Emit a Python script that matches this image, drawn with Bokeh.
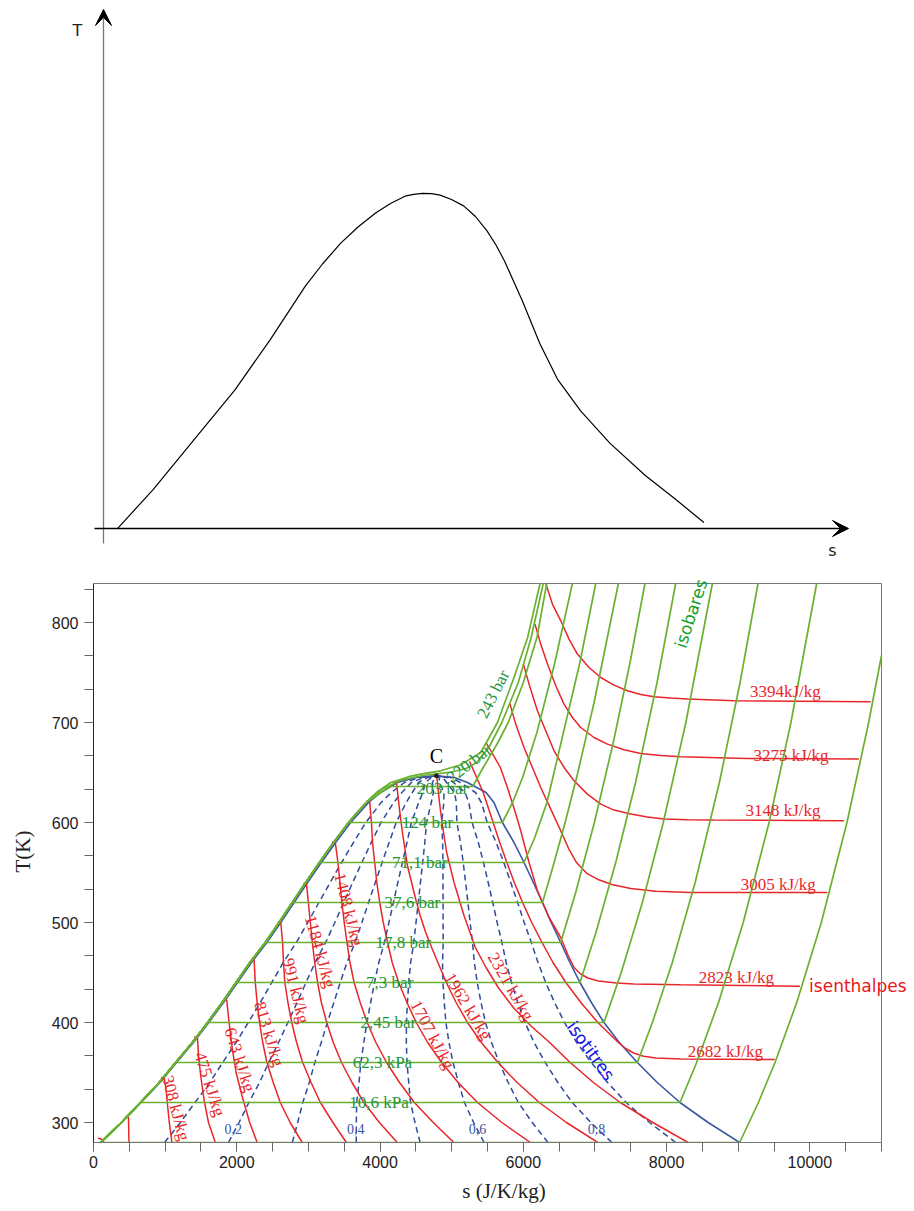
import numpy as np
from bokeh.plotting import figure
from bokeh.models import Range1d, FixedTicker, Arrow, VeeHead, Label, ColumnDataSource
from bokeh.layouts import column
from bokeh.core.properties import value
from bokeh.embed import file_html
from bokeh.resources import INLINE

# ---------------- schematic T-s curve (top panel, arbitrary units) ----------------
schem_s = [117.2, 152.4, 193.4, 234.5, 269.6, 304.8, 322.0, 340.0, 357.5, 375.1, 390.0, 404.5,
           413.0, 422.0, 431.0, 439.6, 451.0, 463.1, 475.0, 486.5, 495.5, 504.1, 521.7, 539.3,
           556.9, 580.3, 609.6, 644.8, 674.1, 703.4]
schem_T = [32.1, 70.7, 120.7, 170.7, 220.7, 274.3, 296.5, 317.1, 333.5, 347.5, 357.0, 364.3,
           366.2, 367.1, 366.8, 365.4, 361.0, 354.6, 344.0, 329.6, 315.5, 299.3, 260.0, 217.1,
           181.4, 149.3, 117.1, 85.0, 62.0, 38.0]

# ---------------- saturation dome (s in J/K/kg, T in K) ----------------
dome_T = [280, 300, 320, 340, 360, 380, 400, 420, 440, 460, 480, 500, 520, 540, 560, 580,
          600, 620, 630, 640, 645, 646.7]
dome_s_liq = [100, 395, 665, 930, 1160, 1395, 1610, 1815, 2010, 2205, 2420, 2614, 2800, 2988,
              3180, 3380, 3590, 3840, 4010, 4243, 4500, 4787]
dome_s_vap = [9020, 8580, 8187, 7870, 7592, 7340, 7126, 6950, 6791, 6650, 6522, 6390, 6267,
              6140, 6010, 5870, 5708, 5590, 5480, 5220, 5040, 4787]
crit_s, crit_T = 4787, 646.7

# isotitres (vapour quality)
titres = [0.1, 0.2, 0.3, 0.4, 0.5, 0.6, 0.7, 0.8, 0.9]
titre_labels = ["0,2", "0,4", "0,6", "0,8"]
titre_label_s = [1951, 3661, 5360, 7022]
titre_label_T = [293.7, 293.7, 293.7, 293.7]

# ---------------- isobars ----------------
liq_T = [280, 300, 320, 340, 360, 380, 400, 420, 440, 460, 480, 500, 520, 540, 560, 580, 600, 620]
liq_s = [98, 390, 655, 918, 1146, 1380, 1593, 1796, 1990, 2183, 2398, 2590, 2775, 2962, 3153,
         3350, 3560, 3805]

isobar_Tsat = [280, 320, 360, 400, 440, 480, 520, 560, 600, 636]
isobar_s_liq = [98, 655, 1146, 1593, 1990, 2398, 2775, 3153, 3560, 4140]
isobar_s_vap = [9020, 8187, 7592, 7126, 6791, 6522, 6267, 6010, 5708, 5294]
sup_s = [
    [9282, 9514, 9817, 10160, 10518, 10821, 11000],
    [8420, 8725, 9070, 9431, 9736, 10095],
    [7802, 8080, 8399, 8737, 9026, 9276],
    [7367, 7662, 7954, 8269, 8639],
    [7014, 7290, 7567, 7867, 8127],
    [6731, 6992, 7256, 7490, 7698],
    [6391, 6584, 6761, 6988, 7327],
    [6160, 6330, 6560, 6790, 7011],
    [5850, 5990, 6190, 6440, 6685],
    [5440, 5630, 5790, 6000, 6190, 6327],
]
sup_T = [
    [320, 360, 420, 500, 600, 700, 767],
    [360, 420, 500, 600, 700, 839],
    [400, 460, 540, 640, 740, 839],
    [450, 520, 600, 700, 839],
    [490, 560, 640, 740, 839],
    [530, 600, 680, 760, 839],
    [550, 600, 650, 720, 839],
    [585, 620, 690, 760, 839],
    [620, 645, 690, 760, 839],
    [655, 678, 700, 740, 785, 839],
]
p220_s = [3860, 4020, 4300, 4600, 4791, 5000, 5200, 5350, 5520, 5700, 5930, 6110, 6278]
p220_T = [624, 633, 642.5, 647, 648.7, 650.5, 654, 660, 675, 700, 740, 785, 839]
p243_s = [3650, 3780, 3950, 4150, 4400, 4568, 4847, 5127, 5406, 5639, 5870, 6060, 6233]
p243_T = [608, 618, 630, 640, 645.8, 648.4, 651.7, 657.7, 670, 700, 745, 785, 839]

isobar_labels = ["10,6 kPa", "62,3 kPa", "2,45 bar", "7,3 bar", "17,8 bar", "37,6 bar",
                 "71,1 bar", "124 bar", "203 bar", "220 bar", "243 bar"]
isobar_label_s = [3986, 4033, 4115, 4135, 4324, 4452, 4556, 4662, 4871, 5242, 5580]
isobar_label_T = [320, 360, 400, 440, 480, 520, 560, 600, 634, 659, 728.4]
isobar_label_angle = [0, 0, 0, 0, 0, 0, 0, 0, 0, 38, 63]

# ---------------- isenthalpes ----------------
h42_s = [60, 103, 147];  h42_T = [284.2, 283.7, 280]
h134_s = [445, 488, 492, 495];  h134_T = [305.5, 305, 292, 280]
h308_s = [941, 986, 1010, 1030, 1058, 1095];  h308_T = [344.9, 344.4, 335, 320, 300, 280]
h475_s = [1406, 1451, 1468, 1500, 1545, 1605, 1700];  h475_T = [385.5, 385, 365, 345, 322, 300, 280]
h643_s = [1815, 1860, 1885, 1935, 1990, 2080, 2180, 2285]
h643_T = [422.9, 422.4, 405, 375, 350, 325, 300, 280]
h813_s = [2197, 2242, 2258, 2284, 2318, 2362, 2421, 2509, 2607, 2745, 2914]
h813_T = [462.9, 462.4, 440, 420, 400, 380, 360, 340, 320, 300, 280]
h991_s = [2569, 2614, 2640, 2652, 2671, 2714, 2767, 2835, 2920, 3037, 3167, 3342, 3530]
h991_T = [500.5, 500, 480, 460, 440, 420, 400, 380, 360, 340, 320, 300, 280]
h1184_s = [2928, 2973, 3000, 3027, 3055, 3088, 3128, 3181, 3255, 3347, 3462, 3609, 3775, 3991, 4240]
h1184_T = [538.9, 538.4, 520, 500, 480, 460, 440, 420, 400, 380, 360, 340, 320, 300, 280]
h1408_s = [3330, 3375, 3412, 3440, 3468, 3500, 3538, 3580, 3638, 3723, 3821, 3942, 4091, 4272,
           4479, 4743, 5030]
h1408_T = [580.5, 580, 560, 540, 520, 500, 480, 460, 440, 420, 400, 380, 360, 340, 320, 300, 280]
h1707_s = [3810, 3855, 3880, 3895, 3925, 3955, 3995, 4045, 4105, 4170, 4260, 4375, 4505, 4665,
           4860, 5090, 5360, 5700, 6100]
h1707_T = [621.5, 621, 600, 580, 560, 540, 520, 500, 480, 460, 440, 420, 400, 380, 360, 340,
           320, 300, 280]
h1962_s = [4185, 4230, 4255, 4285, 4313, 4383, 4440, 4498, 4560, 4638, 4720, 4808, 4924, 5062,
           5221, 5414, 5646, 5914, 6223, 6602, 7039]
h1962_T = [640.5, 640, 623.4, 605, 590, 556.7, 540, 523.4, 507, 490, 475, 460, 440, 420, 400,
           380, 360, 340, 320, 300, 280]
h2321_s = [4791, 4830, 4865, 4930, 5033, 5173, 5330, 5480, 5650, 5860, 6100, 6368, 6654, 6978,
           7353, 7808, 8300]
h2321_T = [646.7, 620, 600, 570, 540, 506.7, 475, 455, 435, 415, 397, 380, 360, 340, 320, 300, 280]
h2682_s = [5250, 5440, 5579, 5671, 5770, 5874, 5990, 6117, 6261, 6414, 6594, 6803, 7040, 7327,
           7430, 7540, 7680, 7850, 8200, 9510]
h2682_T = [661, 630, 600, 580, 560, 540, 520, 500, 480, 460, 440, 420, 400, 380, 374, 369.5,
           366.3, 364.6, 363.6, 363]
h2823_s = [5480, 5680, 5778, 5880, 5964, 6080, 6197, 6360, 6522, 6620, 6708, 6800, 6900, 7050,
           7300, 7545, 8197, 9861]
h2823_T = [680, 655, 635, 612, 591.7, 560, 531.7, 505, 485, 468, 455, 448.5, 444.5, 441.5,
           439.5, 438.6, 437.7, 436.2]
h3005_s = [5810, 5894, 6010, 6127, 6243, 6383, 6522, 6634, 6745, 6885, 7053, 7248, 7500, 7849,
           8337, 10245]
h3005_T = [719.4, 698.4, 675, 655, 635, 613.4, 591.7, 573.7, 559.7, 549.2, 542.7, 537.7, 533.9,
           531.2, 530, 530]
h3148_s = [6001, 6080, 6197, 6313, 6429, 6569, 6708, 6894, 7081, 7267, 7499, 7732, 7964, 8291,
           8662, 10476]
h3148_T = [758.4, 738.4, 711.7, 691.7, 671.7, 655, 641.7, 628.4, 618.4, 612.4, 608.4, 605.4,
           603.4, 602.7, 602.4, 601.7]
h3275_s = [6163, 6243, 6337, 6453, 6568, 6686, 6801, 6987, 7174, 7406, 7639, 7918, 8197, 9128,
           10685]
h3275_T = [798.4, 778.4, 758.4, 736.7, 718.4, 705, 695, 685, 678.4, 672.7, 669, 667, 665.7, 664,
           663.4]
h3394_s = [6313, 6406, 6523, 6638, 6755, 6917, 7081, 7266, 7453, 7639, 7824, 8057, 8291, 8941,
           10849]
h3394_T = [839, 818.4, 801.7, 783.4, 768.4, 755, 745, 737.4, 731.7, 728, 725.7, 724.4, 723.4,
           721.7, 720.7]

h_labels = ["308 kJ/kg", "475 kJ/kg", "643 kJ/kg", "813 kJ/kg", "991 kJ/kg", "1184 kJ/kg",
            "1408 kJ/kg", "1707 kJ/kg", "1962 kJ/kg", "2321 kJ/kg", "2682 kJ/kg", "2823 kJ/kg",
            "3005 kJ/kg", "3148 kJ/kg", "3275 kJ/kg", "3394kJ/kg"]
h_label_s = [1149, 1623, 2042, 2451, 2825, 3163, 3560, 4731, 5228, 5824, 8821, 8974, 9558, 9625,
             9737, 9658]
h_label_T = [314.4, 338.4, 362.7, 388.4, 431.7, 471, 513, 387.7, 416, 436, 371, 444.9, 538.2,
             612.4, 666.7, 730.7]
h_label_angle = [-75, -72, -72, -73, -76, -74, -76, -62, -59, -60, 0, 0, 0, 0, 0, 0]

# ---------------- colours ----------------
GREEN = "#6ab130"
GREEN_TXT = "#1e9640"
RED = "#e8262a"
BLUE = "#3a56a5"
DASH_BLUE = "#2f4a9e"

# ================= top schematic =================
p1 = figure(width=914, height=560, x_range=Range1d(0, 914), y_range=Range1d(0, 560),
            toolbar_location=None, output_backend="svg", x_axis_type=None, y_axis_type=None,
            min_border=0, outline_line_color=None)
p1.grid.visible = False
p1.line(schem_s, schem_T, line_color="black", line_width=1.2)
p1.add_layout(Arrow(end=VeeHead(size=16, fill_color="black", line_color="black"),
                    x_start=103, y_start=17, x_end=103, y_end=551,
                    line_color="#777777", line_width=1.3))
p1.add_layout(Arrow(end=VeeHead(size=16, fill_color="black", line_color="black"),
                    x_start=94, y_start=32, x_end=848, y_end=32,
                    line_color="black", line_width=1.6))
p1.add_layout(Label(x=77, y=530, text="T", text_font="DejaVu Sans", text_font_size="16px",
                    text_align="center", text_baseline="middle", text_color="#222222"))
p1.add_layout(Label(x=832, y=10, text="s", text_font="DejaVu Sans", text_font_size="16px",
                    text_align="center", text_baseline="middle", text_color="#222222"))

# ================= T-s diagram of water =================
S_MAX, T_MIN, T_MAX = 11000, 280, 839
p2 = figure(width=914, height=651, x_range=Range1d(0, 11460.7), y_range=Range1d(T_MIN, 862),
            toolbar_location=None, output_backend="svg",
            min_border_left=93, min_border_right=0, min_border_top=0, min_border_bottom=69)
p2.grid.visible = False
p2.outline_line_color = None

for p in (p1, p2):
    if "frame_align" in p.properties():
        p.frame_align = False

def add_text(p, xs, ys, texts, angles, color, font, size):
    src = ColumnDataSource(dict(x=xs, y=ys, text=texts, angle=list(np.radians(angles))))
    p.text(x="x", y="y", text="text", angle="angle", source=src, text_color=color,
           text_font=value(font), text_font_size=size, text_align="center",
           text_baseline="middle")

# frame borders (top / right)
p2.line([0, S_MAX], [T_MAX, T_MAX], line_color="#777777", line_width=1)
p2.line([S_MAX, S_MAX], [T_MIN, T_MAX], line_color="#777777", line_width=1)

# isotitres
sl = np.array(dome_s_liq, dtype=float)
sv = np.array(dome_s_vap, dtype=float)
for x in titres:
    p2.line(list(sl + x * (sv - sl)), dome_T, line_color=DASH_BLUE, line_width=1.5,
            line_dash="6 4")

# saturation dome
p2.line(dome_s_liq + dome_s_vap[::-1][1:], dome_T + dome_T[::-1][1:], line_color=BLUE,
        line_width=1.6)

# isenthalpes
h_lines = [(h42_s, h42_T), (h134_s, h134_T), (h308_s, h308_T), (h475_s, h475_T),
           (h643_s, h643_T), (h813_s, h813_T), (h991_s, h991_T), (h1184_s, h1184_T),
           (h1408_s, h1408_T), (h1707_s, h1707_T), (h1962_s, h1962_T), (h2321_s, h2321_T),
           (h2682_s, h2682_T), (h2823_s, h2823_T), (h3005_s, h3005_T), (h3148_s, h3148_T),
           (h3275_s, h3275_T), (h3394_s, h3394_T)]
for hs, hT in h_lines:
    p2.line(hs, hT, line_color=RED, line_width=1.5)

# isobars
for i, Ts in enumerate(isobar_Tsat):
    xs = [s for s, T in zip(liq_s, liq_T) if T < Ts] + [isobar_s_liq[i], isobar_s_vap[i]] + sup_s[i]
    ys = [T for T in liq_T if T < Ts] + [Ts, Ts] + sup_T[i]
    p2.line(xs, ys, line_color=GREEN, line_width=1.7)
p2.line([s for s, T in zip(liq_s, liq_T) if T < 620] + p220_s,
        [T for T in liq_T if T < 620] + p220_T, line_color=GREEN, line_width=1.7)
p2.line([s for s, T in zip(liq_s, liq_T) if T <= 600] + p243_s,
        [T for T in liq_T if T <= 600] + p243_T, line_color=GREEN, line_width=1.7)

# critical point
p2.scatter([crit_s], [crit_T], size=4, color="#222222")

# labels
add_text(p2, isobar_label_s, isobar_label_T, isobar_labels, isobar_label_angle, GREEN_TXT,
         "Liberation Serif", "17px")
add_text(p2, h_label_s, h_label_T, h_labels, h_label_angle, RED, "Liberation Serif", "17px")
add_text(p2, titre_label_s, titre_label_T, titre_labels, [0] * 4, BLUE, "Liberation Serif", "14px")
add_text(p2, [crit_s], [666.7], ["C"], [0], "black", "Liberation Serif", "20px")
add_text(p2, [6944], [371.7], ["isotitres"], [-54], "#1414e6", "DejaVu Sans", "17px")
add_text(p2, [8340], [809], ["isobares"], [72], "#14a02a", "DejaVu Sans", "17px")
add_text(p2, [10670], [436.7], ["isenthalpes"], [0], "#e8161b", "DejaVu Sans", "17px")

# axes
p2.xaxis.ticker = FixedTicker(ticks=[0, 2000, 4000, 6000, 8000, 10000],
                              minor_ticks=list(range(0, S_MAX + 1, 500)))
p2.yaxis.ticker = FixedTicker(ticks=[300, 400, 500, 600, 700, 800],
                              minor_ticks=[300 + k * 100 / 3 for k in range(0, 17)])
p2.xaxis.bounds = (0, S_MAX)
p2.yaxis.bounds = (T_MIN, T_MAX)
for ax in (p2.xaxis[0], p2.yaxis[0]):
    ax.major_tick_out = 9
    ax.major_tick_in = 0
    ax.minor_tick_out = 9
    ax.minor_tick_in = 0
    ax.major_tick_line_color = "#666666"
    ax.minor_tick_line_color = "#666666"
    ax.major_label_text_font = "Liberation Sans"
    ax.major_label_text_font_size = "16px"
    ax.major_label_text_color = "#222222"
    ax.axis_label_text_font = "Liberation Serif"
    ax.axis_label_text_font_size = "21px"
    ax.axis_label_text_font_style = "normal"
    ax.axis_label_text_color = "#222222"
p2.xaxis.axis_label = "s (J/K/kg)"
p2.yaxis.axis_label = "T(K)"
p2.xaxis.axis_line_color = "#777777"
p2.yaxis.axis_line_color = "#222222"
p2.xaxis.major_label_standoff = 4
p2.yaxis.major_label_standoff = 6
p2.xaxis.axis_label_standoff = 8
p2.yaxis.axis_label_standoff = 14

layout = column(p1, p2)
open("out.html", "w").write(file_html(layout, INLINE))
